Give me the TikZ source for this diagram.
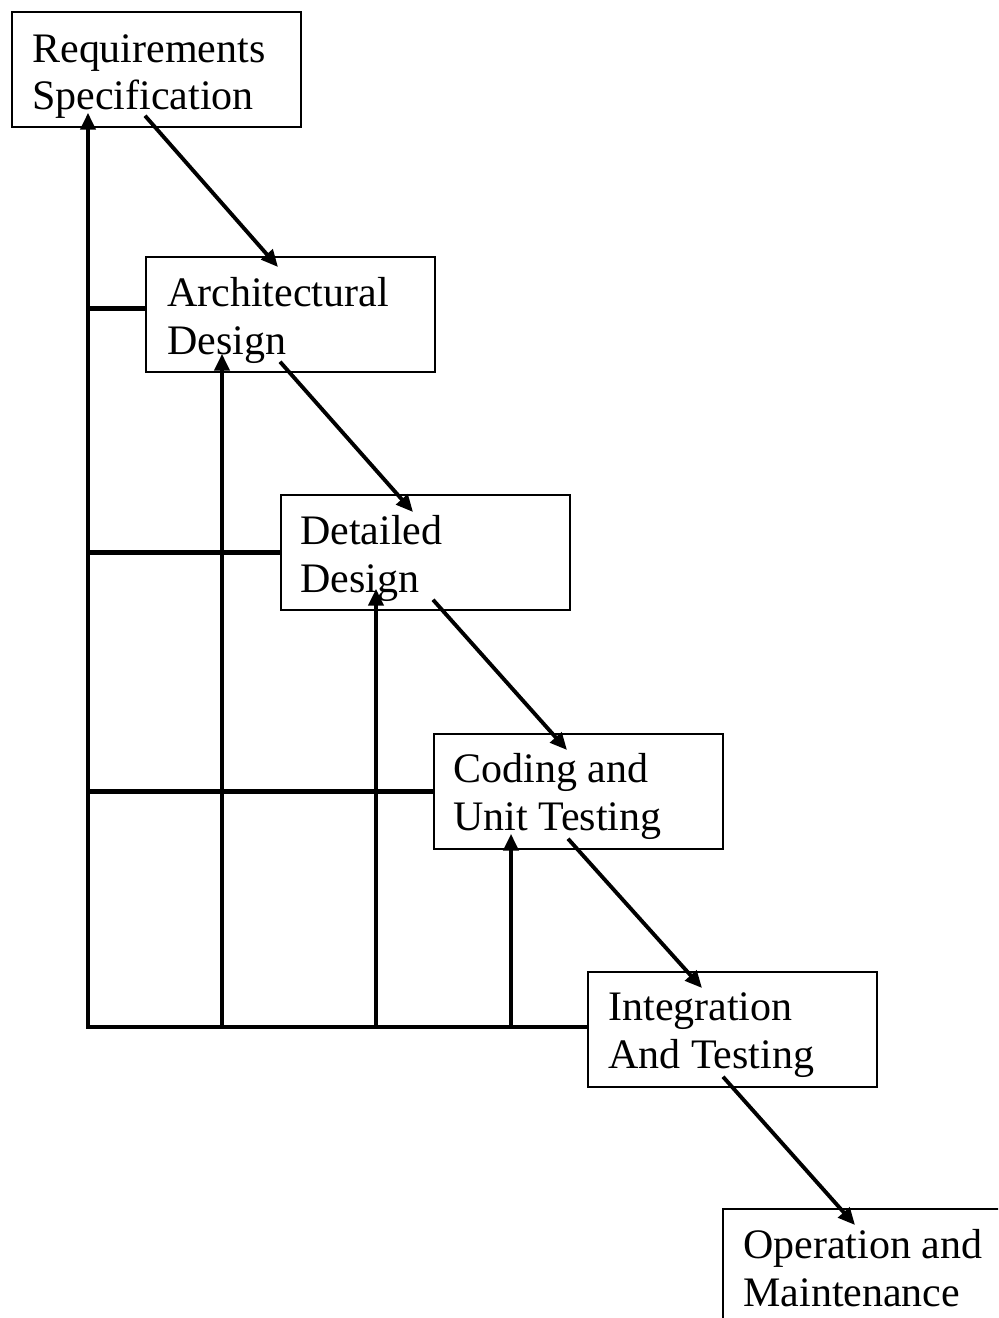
\documentclass[tikz,border=0pt]{standalone}
\usepackage{fontspec}
\setmainfont{Liberation Serif}
\usetikzlibrary{arrows.meta,positioning}

\begin{document}
\begin{tikzpicture}[x=0.02cm, y=-0.02cm,
    stage/.style={draw, line width=1pt, minimum width=5.78cm, minimum height=2.3cm,
      inner sep=0pt, anchor=north west},
    stagetext/.style={anchor=base west, align=left, inner sep=0pt,
      font=\fontsize{23.9}{27.3}\selectfont},
    flow/.style={line width=2.2pt, -{Triangle[length=0.34cm,width=0.3cm]}},
    back/.style={line width=2.6pt},
    backup/.style={back, -{Triangle[length=0.34cm,width=0.3cm]}}]
  \useasboundingbox (0,0) rectangle (998,1318);
  \clip (0,0) rectangle (998,1318);
  % stages
  \node[stage] (req)  at (11,11)    {};
  \node[stage] (arch) at (145,256)  {};
  \node[stage] (det)  at (280,494)  {};
  \node[stage] (cod)  at (433,733)  {};
  \node[stage] (int)  at (587,971)  {};
  \node[stage] (op)   at (722,1208) {};
  % stage names (base = last line)
  \node[stagetext] (req-t)  at ([shift={(21,99)}]req.north west)  {Requirements\\Specification};
  \node[stagetext] (arch-t) at ([shift={(22,98)}]arch.north west) {Architectural\\Design};
  \node[stagetext] (det-t)  at ([shift={(20,98)}]det.north west)  {Detailed\\Design};
  \node[stagetext] (cod-t)  at ([shift={(20,97)}]cod.north west)  {Coding and\\Unit Testing};
  \node[stagetext] (int-t)  at ([shift={(21,97)}]int.north west)  {Integration\\And Testing};
  \node[stagetext] (op-t)   at ([shift={(21,98)}]op.north west)   {Operation and\\Maintenance};
  % downward flow
  \draw[flow] ([shift={(134,-12)}]req.south west)  -- ([shift={(133,11)}]arch.north west);
  \draw[flow] ([shift={(135,-11)}]arch.south west) -- ([shift={(133,18)}]det.north west);
  \draw[flow] ([shift={(153,-11)}]det.south west)  -- ([shift={(134,17)}]cod.north west);
  \draw[flow] ([shift={(135,-11)}]cod.south west)  -- ([shift={(115,17)}]int.north west);
  \draw[flow] ([shift={(136,-11)}]int.south west)  -- ([shift={(133,17)}]op.north west);
  % feedback
  \coordinate (corner) at (88,1027);
  \draw[backup] (corner -| int.west) -- (corner) -- ([yshift=0.3cm]corner |- req.south);
  \draw[back] ([yshift=0.12cm]arch.west) -- ([yshift=0.12cm]arch.west -| corner);
  \draw[back] (det.west) -- (det.west -| corner);
  \draw[back] (cod.west) -- (cod.west -| corner);
  \coordinate (arch-in) at ([shift={(77,-19)}]arch.south west);
  \coordinate (det-in)  at ([shift={(96,-22)}]det.south west);
  \coordinate (cod-in)  at ([shift={(78,-16)}]cod.south west);
  \draw[backup] (corner -| arch-in) -- (arch-in);
  \draw[backup] (corner -| det-in)  -- (det-in);
  \draw[backup] (corner -| cod-in)  -- (cod-in);
\end{tikzpicture}
\end{document}
